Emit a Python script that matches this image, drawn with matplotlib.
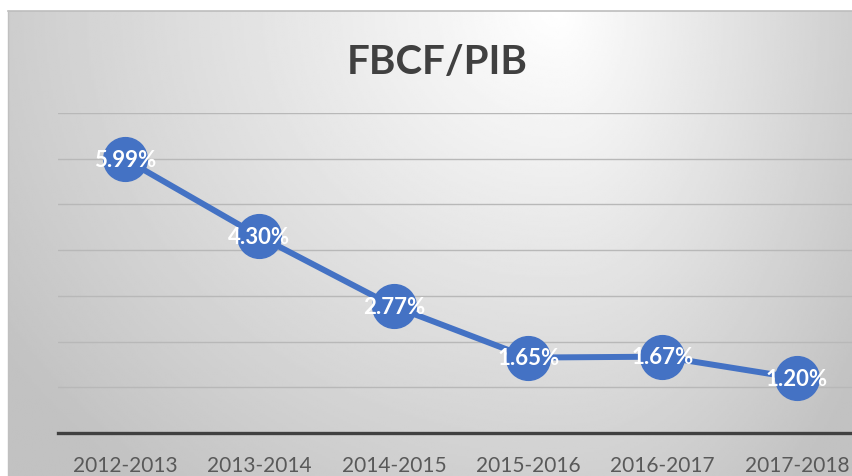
import numpy as np
import matplotlib
matplotlib.use("Agg")
import matplotlib.pyplot as plt

# data
periods = ["2012-2013", "2013-2014", "2014-2015", "2015-2016", "2016-2017", "2017-2018"]
ratio = [5.99, 4.30, 2.77, 1.65, 1.67, 1.20]   # percent
labels = ["5.99%", "4.30%", "2.77%", "1.65%", "1.67%", "1.20%"]

W, H = 853, 477
fig = plt.figure(figsize=(W / 100, H / 100), dpi=100)
fig.patch.set_facecolor("white")

# background panel with soft radial gradient
bg = fig.add_axes([8 / W, 0, 1 - 8 / W, 1 - 12 / H])
bg.set_axis_off()
xx, yy = np.meshgrid(np.linspace(8, W, 400), np.linspace(12, H, 240))
cx, cy = 560, 10
sx = np.where(xx < cx, 620, 340)
t = np.sqrt(((xx - cx) / sx) ** 2 + ((yy - cy) / 560) ** 2)
shade = 1.0 - 0.22 * np.clip(t, 0, 1.1)
bg.imshow(shade, cmap="gray", vmin=0, vmax=1, aspect="auto",
          extent=[0, 1, 0, 1], origin="upper", interpolation="bilinear")
bg.plot([0, 1], [1, 1], color="#bdbdbd", lw=1.2, transform=bg.transAxes, clip_on=False)
bg.plot([0, 0], [0, 1], color="#c0c0c0", lw=1.0, transform=bg.transAxes, clip_on=False)

ax = fig.add_axes([58 / W, (H - 434) / H, (864 - 58) / W, (434 - 114) / H])
ax.patch.set_alpha(0)
x = np.arange(len(periods))
ax.set_xlim(-0.5, len(periods) - 0.5)
ax.set_ylim(0, 7)
ax.set_yticks(np.arange(1, 8))
ax.yaxis.grid(True, color="#b8b8b8", lw=1.0)
ax.set_axisbelow(True)
ax.tick_params(axis="y", left=False, labelleft=False)
for s in ["top", "right", "left"]:
    ax.spines[s].set_visible(False)
ax.spines["bottom"].set_color("#404040")
ax.spines["bottom"].set_linewidth(2.4)

ax.plot(x, ratio, color="#4472C4", lw=4.3, marker="o", markersize=31.5,
        markerfacecolor="#4472C4", markeredgecolor="#4472C4", clip_on=False, zorder=3)
for xi, yi, lab in zip(x, ratio, labels):
    ax.text(xi, yi, lab, ha="center", va="center", color="white",
            fontsize=16, fontweight="bold", family="Lato", zorder=4)

ax.set_xticks(x)
ax.set_xticklabels(periods, fontsize=15, color="#595959", family="Lato")
ax.tick_params(axis="x", length=0, pad=16)

fig.text(437 / W, 1 - 63 / H, "FBCF/PIB", ha="center", va="center",
         fontsize=29, fontweight="bold", color="#404040", family="Lato")

fig.savefig("out.png", dpi=100)
